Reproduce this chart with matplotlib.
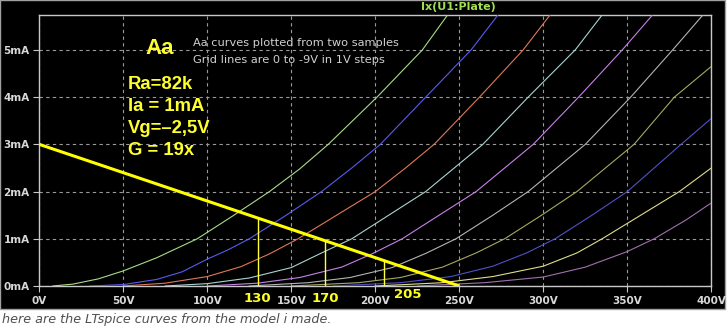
import numpy as np
import matplotlib
matplotlib.use("Agg")
import matplotlib.pyplot as plt
from matplotlib.patches import Rectangle

# -------------------------------
# DATA
# -------------------------------
# anode current (mA) vs anode voltage (V), grid 0 .. -9 V
v_g0 = [8, 20, 35, 50, 70, 94, 115, 137, 155, 172, 201, 228, 243]
i_g0 = [0, 0.04, 0.15, 0.32, 0.6, 1.0, 1.48, 2.0, 2.48, 3.0, 4.0, 5.0, 5.74]

v_g1 = [30, 50, 70, 85, 100, 112, 125, 147, 168, 186, 203, 230, 257, 273]
i_g1 = [0, 0.03, 0.14, 0.3, 0.57, 0.76, 1.0, 1.5, 2.0, 2.5, 3.0, 4.0, 5.0, 5.74]

v_g2 = [50, 75, 100, 120, 137, 154, 177, 200, 218, 235, 262, 288, 304]
i_g2 = [0, 0.06, 0.2, 0.41, 0.68, 1.0, 1.5, 2.0, 2.5, 3.0, 4.0, 5.0, 5.74]

v_g3 = [75, 100, 125, 150, 168, 186, 208, 230, 247, 264, 291, 319, 335]
i_g3 = [0, 0.05, 0.17, 0.39, 0.7, 1.0, 1.5, 2.0, 2.5, 3.0, 4.0, 5.0, 5.74]

v_g4 = [100, 130, 155, 180, 198, 216, 238, 260, 277, 294, 321, 347, 365]
i_g4 = [0, 0.06, 0.18, 0.4, 0.68, 1.0, 1.5, 2.0, 2.5, 3.0, 4.0, 5.0, 5.74]

v_g5 = [125, 160, 185, 210, 230, 248, 270, 291, 308, 325, 352, 377, 395]
i_g5 = [0, 0.07, 0.18, 0.39, 0.69, 1.0, 1.5, 2.0, 2.5, 3.0, 4.0, 5.0, 5.74]

v_g6 = [150, 190, 215, 240, 260, 277, 299, 320, 337, 354, 378, 400]
i_g6 = [0, 0.07, 0.18, 0.4, 0.7, 1.0, 1.5, 2.0, 2.5, 3.0, 4.0, 4.65]

v_g7 = [175, 215, 245, 270, 290, 307, 329, 350, 366, 382, 400]
i_g7 = [0, 0.07, 0.2, 0.42, 0.7, 1.0, 1.5, 2.0, 2.5, 3.0, 3.55]

v_g8 = [200, 240, 270, 300, 320, 335, 358, 381, 400]
i_g8 = [0, 0.07, 0.2, 0.42, 0.7, 1.0, 1.5, 2.0, 2.5]

v_g9 = [225, 265, 300, 325, 350, 366, 385, 400]
i_g9 = [0, 0.07, 0.19, 0.4, 0.73, 1.0, 1.4, 1.76]

curves_v = [v_g0, v_g1, v_g2, v_g3, v_g4, v_g5, v_g6, v_g7, v_g8, v_g9]
curves_i = [i_g0, i_g1, i_g2, i_g3, i_g4, i_g5, i_g6, i_g7, i_g8, i_g9]
curve_cols = ['#a8dc88', '#5a5af0', '#e07858', '#a8d4d0', '#c880e8',
              '#b4b4b4', '#a8a860', '#5050c8', '#e0dc88', '#a070b0']

# load line 250 V / 82k
load_v = [0, 250]
load_i = [3.0, 0.0]
# operating points (V) marked on the load line
op_v = [130, 170, 205]

xticks = [0, 50, 100, 150, 200, 250, 300, 350, 400]
yticks = [0, 1, 2, 3, 4, 5]

notes = ['Ra=82k', 'Ia = 1mA', 'Vg=\u20132,5V', 'G = 19x']

# -------------------------------
# PLOT
# -------------------------------
W, H = 728, 329
fig = plt.figure(figsize=(W / 100, H / 100), dpi=100, facecolor='white')

# black LTspice window (behind the axes)
fig.patches.append(Rectangle((0, 1 - 309 / H), 1 - 3 / W, 309 / H, transform=fig.transFigure,
                             facecolor='black', edgecolor='#a0a0a0', linewidth=1.0, zorder=-10))

ax = fig.add_axes([39.3 / W, 1 - 286 / H, 672 / W, 271 / H])
ax.set_zorder(2)
ax.set_facecolor('black')
ax.set_xlim(0, 400)
ax.set_ylim(0, 5.74)

for vv, ii, cc in zip(curves_v, curves_i, curve_cols):
    ax.plot(vv, ii, color=cc, lw=0.8, zorder=3)

ax.plot(load_v, load_i, color='#ffff00', lw=2.2, zorder=4, solid_capstyle='butt')
for v in op_v:
    ax.plot([v, v], [0, np.interp(v, load_v, load_i)], color='#ffff40', lw=1.0, zorder=4)

# grid
ax.set_xticks(xticks)
ax.set_yticks(yticks)
ax.grid(True, color='#9a9a9a', lw=0.8, linestyle=(0, (3, 3)))
ax.set_axisbelow(True)
for s in ax.spines.values():
    s.set_color('#c8c8c8')
    s.set_linewidth(1.0)
ax.tick_params(colors='#c8c8c8', length=4, width=0.8, labelsize=7.5, pad=3)
ax.set_xticklabels([f'{t}V' for t in xticks], color='#d8d8d8', fontweight='bold')
ax.set_yticklabels([f'{t}mA' for t in yticks], color='#d8d8d8', fontweight='bold')

# labels below the axis for the operating points
ax.text(130, -0.26, '130', color='#ffff20', fontsize=9.5, fontweight='bold', ha='center', va='center', clip_on=False)
ax.text(170, -0.26, '170', color='#ffff20', fontsize=9.5, fontweight='bold', ha='center', va='center', clip_on=False)
ax.text(211, -0.17, '205', color='#ffff20', fontsize=9.5, fontweight='bold', ha='left', va='center', clip_on=False)

# annotations
ax.text(63, 5.02, 'Aa', color='#ffff30', fontsize=16, fontweight='bold', va='center',
        family='Liberation Sans')
ax.text(91.5, 5.15, 'Aa curves plotted from two samples', color='#d0d0d0', fontsize=8.2, va='center')
ax.text(91.5, 4.79, 'Grid lines are 0 to -9V in 1V steps', color='#d0d0d0', fontsize=8.2, va='center')
for k, txt in enumerate(notes):
    ax.text(52.5, 4.26 - k * 0.46, txt, color='#ffff30', fontsize=13.3, fontweight='bold', va='center',
            family='Liberation Sans')

fig.text(458 / W, 1 - 7 / H, 'Ix(U1:Plate)', color='#a0e050', fontsize=8, fontweight='bold',
         ha='center', va='center')

fig.text(2 / W, 1 - 319 / H, 'here are the LTspice curves from the model i made.',
         color='#505050', fontsize=9.2, style='italic', va='center')

fig.savefig('out.png', dpi=100, facecolor='white')
